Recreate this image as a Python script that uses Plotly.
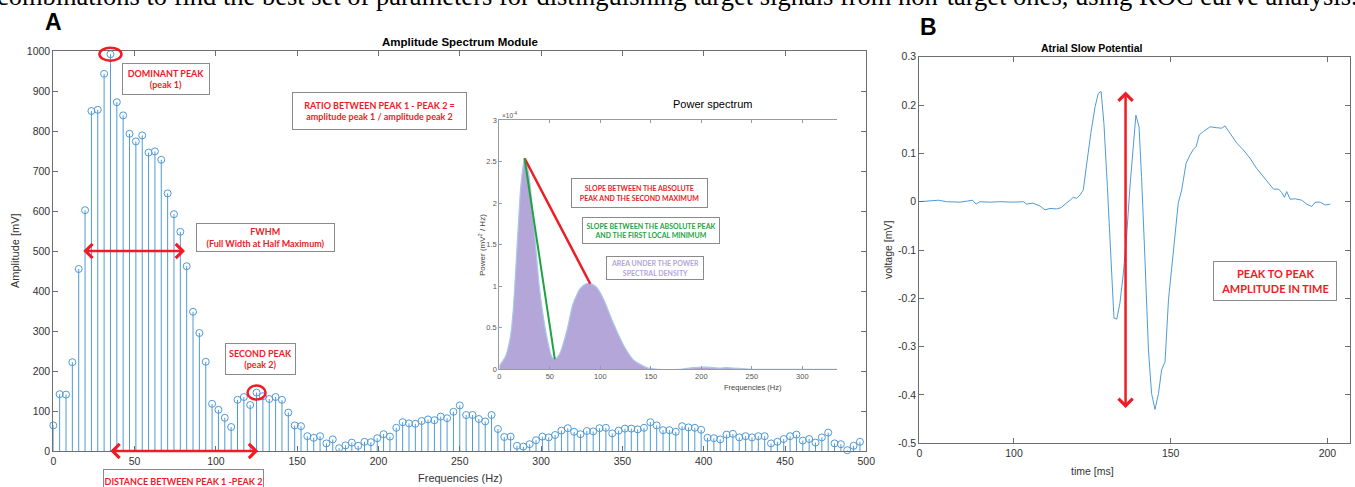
import plotly.graph_objects as go

# ---------------- data ----------------
# Panel A: amplitude spectrum (bins of 1000/256 Hz)
FREQ_STEP = 1000 / 256
amp_mv = [64, 142, 141, 222, 455, 602, 850, 853, 943, 992, 872, 839, 793, 774, 789, 746, 749, 728, 644, 592, 548, 462, 348,
          295, 223, 118, 103, 83, 60, 128, 135, 115, 146, 137, 130, 135, 128, 96, 64, 62, 37, 33, 37, 19, 29, 7, 14, 21, 13,
          23, 22, 32, 42, 36, 58, 72, 69, 68, 75, 79, 77, 86, 82, 98, 114, 90, 90, 80, 74, 90, 55, 35, 36, 13,
          11, 17, 27, 36, 34, 40, 51, 57, 48, 42, 50, 49, 57, 58, 44, 51, 56, 56, 54, 58, 72, 64, 52, 52, 48, 62,
          59, 58, 53, 33, 32, 29, 41, 43, 34, 37, 34, 37, 37, 19, 23, 30, 37, 41, 26, 30, 21, 34, 46, 19, 17, 2, 13, 23]
freq_hz = [i * FREQ_STEP for i in range(len(amp_mv))]
peak1_idx = 9
peak2_idx = 32
fwhm_hz = [17.5, 81.0]

# Inset: power spectrum (x1e-4 mV^2/Hz)
ps_f = [0, 6, 11, 14, 18, 21, 24, 25, 29, 34, 40, 47, 52, 55, 60, 67, 73, 80, 86, 91, 96, 103, 113, 123, 133,
        146, 156, 179, 192, 205, 218, 225, 238, 251, 334]
ps_p = [0.04, 0.15, 0.39, 0.75, 1.56, 2.16, 2.48, 2.54, 2.36, 1.76, 0.95, 0.39, 0.15, 0.12, 0.19, 0.47, 0.79,
        0.97, 1.03, 1.03, 0.99, 0.85, 0.55, 0.29, 0.11, 0.02, 0.0, 0.0, 0.02, 0.025, 0.015, 0.02, 0.01, 0.0, 0.0]
ps_peak = (25, 2.54)
ps_second_max = (90, 1.03)
ps_first_min = (55, 0.12)

# Panel B: atrial slow potential
t_ms = [69.8, 75.9, 78.5, 82.8, 84.9, 86.8, 87.9, 89.1, 92.3, 95.5, 99.8, 103, 104, 106, 108.3, 109.9, 111.5,
        113.6, 115.2, 116.3, 117.9, 118.9, 120, 121.1, 122.1, 123.2, 124.5, 125.9, 126.9, 127.8, 128.7, 129.8,
        130.9, 131.9, 132.8, 133.8, 134.9, 136, 137, 138.1, 138.9, 139.9, 140.7, 141.8, 142.9, 143.9, 145,
        146.1, 147.1, 148.2, 149.3, 150.9, 152.4, 153.5, 154.9, 156.2, 157.2, 158.1, 159.1, 160.4, 162.6,
        164.7, 166.3, 167.3, 168.9, 171.1, 173.2, 175.3, 177.4, 179.6, 181.2, 182.8, 184.4, 185.4, 186.3,
        187, 188.1, 189.7, 191.8, 193.4, 195, 196.1, 197.7, 199.3, 200.9]
v_mv = [0, 0.003, 0, -0.001, 0.001, 0.003, -0.005, 0, -0.001, 0, -0.001, 0, -0.005, -0.003, -0.009, -0.017,
        -0.014, -0.015, -0.012, -0.005, 0.003, 0.009, 0.007, 0.014, 0.024, 0.079, 0.141, 0.197, 0.224, 0.228,
        0.162, 0.031, -0.121, -0.241, -0.243, -0.210, -0.148, -0.066, 0.031, 0.128, 0.179, 0.155, 0.052,
        -0.121, -0.307, -0.397, -0.430, -0.397, -0.348, -0.331, -0.203, -0.100, -0.003, 0.024, 0.079, 0.097,
        0.108, 0.114, 0.138, 0.145, 0.155, 0.153, 0.152, 0.157, 0.141, 0.121, 0.107, 0.090, 0.069, 0.052,
        0.038, 0.026, 0.026, 0.019, 0.009, 0.021, 0.005, 0.006, 0.003, -0.005, -0.010, -0.001, -0.001,
        -0.007, -0.005]
p2p_time = 135.6

# ---------------- layout helpers ----------------
W, H = 1355, 487
def fx(px): return px / W
def fy(py): return 1 - py / H

A_X = (53.3, 866.3); A_Y = (51, 451)
I_X = (499.3, 836.7); I_Y = (120, 369.3)
B_X = (919.3, 1350); B_Y = (56.7, 443.3)
A_RANGE_X = (0, 500); A_RANGE_Y = (0, 1000)

def a_to_px(x, y):
    px = A_X[0] + (x - A_RANGE_X[0]) / (A_RANGE_X[1] - A_RANGE_X[0]) * (A_X[1] - A_X[0])
    py = A_Y[1] - (y - A_RANGE_Y[0]) / (A_RANGE_Y[1] - A_RANGE_Y[0]) * (A_Y[1] - A_Y[0])
    return px, py

BLUE = "#4f9ad6"
RED = "#ee1c25"
GREEN = "#1fa340"
PURPLE_TXT = "#b3a5db"
AX_COL = "#6e6e6e"
TXT_COL = "#333333"
SANS = "Liberation Sans"
BOXF = "Lato"

fig = go.Figure()

# stems
sx, sy = [], []
for f, a in zip(freq_hz, amp_mv):
    sx += [f, f, None]
    sy += [0, a, None]
fig.add_trace(go.Scatter(x=sx, y=sy, mode="lines", line=dict(color=BLUE, width=1),
                         hoverinfo="skip", xaxis="x", yaxis="y"))
fig.add_trace(go.Scatter(x=freq_hz, y=amp_mv, mode="markers", cliponaxis=False,
                         marker=dict(symbol="circle-open", size=7, color=BLUE, line=dict(width=1)),
                         xaxis="x", yaxis="y"))

# inset power spectrum
fig.add_trace(go.Scatter(x=ps_f, y=ps_p, mode="lines", fill="tozeroy", fillcolor="#b4a6d8",
                         line=dict(color="#a9c8ea", width=1.2, shape="spline", smoothing=0.6),
                         xaxis="x2", yaxis="y2"))
fig.add_trace(go.Scatter(x=[ps_peak[0], ps_second_max[0]], y=[ps_peak[1], ps_second_max[1]], mode="lines",
                         line=dict(color=RED, width=2.5), xaxis="x2", yaxis="y2"))
fig.add_trace(go.Scatter(x=[ps_peak[0], ps_first_min[0]], y=[ps_peak[1], ps_first_min[1]], mode="lines",
                         line=dict(color=GREEN, width=2), xaxis="x2", yaxis="y2"))

# panel B
fig.add_trace(go.Scatter(x=t_ms, y=v_mv, mode="lines", line=dict(color=BLUE, width=1),
                         xaxis="x3", yaxis="y3"))

ax_common = dict(showline=True, linecolor=AX_COL, linewidth=1, ticks="inside", ticklen=5,
                 tickcolor=AX_COL, showgrid=False, zeroline=False, mirror="ticks", automargin=False,
                 tickfont=dict(family=SANS, size=10.5, color=TXT_COL))
in_common = dict(showline=True, linecolor="#9a9a9a", linewidth=1, ticks="inside", ticklen=3,
                 tickcolor="#9a9a9a", showgrid=False, zeroline=False, automargin=False,
                 tickfont=dict(family=SANS, size=7.5, color="#555"))

fig.update_layout(
    template="none",
    width=W, height=H, margin=dict(l=0, r=0, t=0, b=0, pad=0), autosize=False,
    paper_bgcolor="white", plot_bgcolor="white", showlegend=False,
    xaxis=dict(domain=[fx(A_X[0]), fx(A_X[1])], range=list(A_RANGE_X), tickvals=list(range(0, 501, 50)),
               anchor="y", **ax_common),
    yaxis=dict(domain=[fy(A_Y[1]), fy(A_Y[0])], range=list(A_RANGE_Y), tickvals=list(range(0, 1001, 100)),
               anchor="x", **ax_common),
    xaxis2=dict(domain=[fx(I_X[0]), fx(I_X[1])], range=[0, 334], tickvals=list(range(0, 301, 50)),
                anchor="y2", mirror="ticks", **in_common),
    yaxis2=dict(domain=[fy(I_Y[1]), fy(I_Y[0])], range=[0, 3], tickvals=[0, 0.5, 1, 1.5, 2, 2.5, 3],
                ticktext=["0", "0.5", "1", "1.5", "2", "2.5", "3"], anchor="x2", **in_common),
    xaxis3=dict(domain=[fx(B_X[0]), fx(B_X[1])], range=[69.8, 207.2], tickvals=[69.8, 100, 150, 200],
                ticktext=["0", "100", "150", "200"], anchor="y3", **ax_common),
    yaxis3=dict(domain=[fy(B_Y[1]), fy(B_Y[0])], range=[-0.5, 0.3],
                tickvals=[-0.5, -0.4, -0.3, -0.2, -0.1, 0, 0.1, 0.2, 0.3],
                ticktext=["-0.5", "-0.4", "-0.3", "-0.2", "-0.1", "0", "0.1", "0.2", "0.3"],
                anchor="x3", **ax_common),
)

ann = []
def text(px, py, s, size, color=TXT_COL, bold=False, family=SANS, angle=0, xanchor="center", yanchor="middle"):
    ann.append(dict(x=fx(px), y=fy(py), xref="paper", yref="paper", text=(f"<b>{s}</b>" if bold else s),
                    showarrow=False, textangle=angle, xanchor=xanchor, yanchor=yanchor,
                    font=dict(family=family, size=size, color=color)))

def box(px, py, w, h, s, size, color=RED):
    ann.append(dict(x=fx(px), y=fy(py), xref="paper", yref="paper", text=f"<b>{s}</b>", showarrow=False,
                    xanchor="center", yanchor="middle", width=w, height=h, align="center", valign="middle",
                    bordercolor="#8a8a8a", borderwidth=1, borderpad=0, bgcolor="white",
                    font=dict(family=BOXF, size=size, color=color)))

def darrow(x0, y0, x1, y1, xr, yr):
    ann.append(dict(x=x1, y=y1, ax=x0, ay=y0, xref=xr, yref=yr, axref=xr, ayref=yr, text="",
                    showarrow=True, arrowside="end+start", arrowhead=4, arrowsize=1.1, arrowwidth=2.5,
                    arrowcolor=RED, standoff=0, startstandoff=0))

# top cut-off caption text
text(677, 13.5, "combinations to find the best set of parameters for distinguishing target signals from non-target ones, using ROC curve analysis.",
     26.5, color="black", family="Liberation Serif", yanchor="bottom")

# panel letters and titles
text(53, 22, "A", 23, color="black", bold=True)
text(928, 27.5, "B", 23, color="black", bold=True)
text(460, 42, "Amplitude Spectrum Module", 11.5, color="black", bold=True)
text(712, 104, "Power spectrum", 11, color="black")
text(1092, 48, "Atrial Slow Potential", 10.5, color="black", bold=True)

# axis titles
text(15, 251, "Amplitude [mV]", 11, angle=-90)
text(460, 478, "Frequencies (Hz)", 11)
text(482, 245, "Power (mV<sup>2</sup> / Hz)", 8, color="#444", angle=-90)
text(753, 387, "Frequencies (Hz)", 7.5, color="#444")
text(500, 115, "×10<sup>-4</sup>", 6.5, color="#555", xanchor="left")
text(888, 250, "voltage [mV]", 10.5, angle=-90)
text(1092, 471, "time [ms]", 10.5)

# boxes
box(166, 79, 86, 30, "DOMINANT PEAK<br>(peak 1)", 9)
box(379.5, 111, 173, 36, "RATIO BETWEEN PEAK 1 - PEAK 2 =<br>amplitude peak 1 / amplitude peak 2", 9)
box(265.5, 237.5, 137, 27, "FWHM<br>(Full Width at Half Maximum)", 9)
box(260.5, 359, 69, 30, "SECOND PEAK<br>(peak 2)", 9)
box(183.5, 481, 159, 22, "DISTANCE BETWEEN PEAK 1 -PEAK 2", 9)
box(639.5, 193, 135, 28, "SLOPE BETWEEN THE ABSOLUTE<br>PEAK AND THE SECOND MAXIMUM", 7)
box(651, 230.5, 136, 25, "SLOPE BETWEEN THE ABSOLUTE PEAK<br>AND THE FIRST LOCAL MINIMUM", 7, color=GREEN)
box(655, 268, 96, 22, "AREA UNDER THE POWER<br>SPECTRAL DENSITY", 7, color=PURPLE_TXT)
box(1275, 281, 122, 38, "PEAK TO PEAK<br>AMPLITUDE IN TIME", 11)

# arrows
darrow(fwhm_hz[0], 500, fwhm_hz[1], 500, "x", "y")
darrow(freq_hz[peak1_idx] - 1, 0, freq_hz[peak2_idx] + 1, 0, "x", "y")
darrow(p2p_time, min(v_mv), p2p_time, max(v_mv), "x3", "y3")

fig.update_layout(annotations=ann)

# ellipses around peaks (paper coords derived from data)
shapes = []
for idx, w, h in [(peak1_idx, 22, 13), (peak2_idx, 18, 14)]:
    cx, cy = a_to_px(freq_hz[idx], amp_mv[idx])
    shapes.append(dict(type="circle", xref="paper", yref="paper", x0=fx(cx - w / 2), x1=fx(cx + w / 2),
                       y0=fy(cy + h / 2), y1=fy(cy - h / 2), line=dict(color=RED, width=2.5)))
fig.update_layout(shapes=shapes)

fig.write_html("out.html", config={"displayModeBar": False},
               post_script="document.body.style.margin='0px';document.body.style.overflow='hidden';")
